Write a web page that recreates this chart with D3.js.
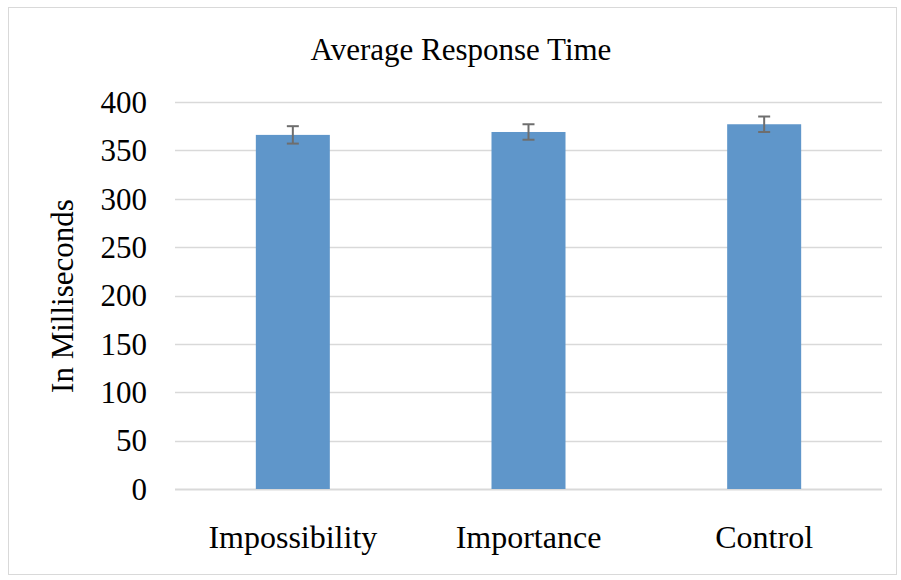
<!DOCTYPE html>
<html><head><meta charset="utf-8">
<script src="https://cdn.jsdelivr.net/npm/d3@7"></script>
<style>body{margin:0;background:#fff}svg{display:block}</style>
</head><body>
<script>
const categories = ["Impossibility", "Importance", "Control"];
const values = [366, 369, 377];
const errors = [9, 8, 8];
const yTicks = [0, 50, 100, 150, 200, 250, 300, 350, 400];
const title = "Average Response Time";
const yLabel = "In Milliseconds";

(function () {
const W = 901, H = 580;
const FONT = "'Liberation Serif', 'Times New Roman', serif";
const svg = d3.select("body").append("svg").attr("width", W).attr("height", H);
svg.append("rect").attr("x", 8.5).attr("y", 7.5).attr("width", 888).attr("height", 567)
  .attr("fill", "#fff").attr("stroke", "#d9d9d9").attr("stroke-width", 1);

const pLeft = 175, pRight = 882, pTop = 102, pBottom = 489;
const x = d3.scaleBand().domain(categories).range([pLeft, pRight]).padding(0);
const y = d3.scaleLinear().domain([0, 400]).range([pBottom, pTop]);
const bw = x.bandwidth() * 0.314;

svg.append("g").selectAll("line").data(yTicks).join("line")
  .attr("x1", pLeft).attr("x2", pRight)
  .attr("y1", d => Math.round(y(d)) + 0.5).attr("y2", d => Math.round(y(d)) + 0.5)
  .attr("stroke", "#d9d9d9").attr("stroke-width", d => d === 0 ? 2 : 1.5);

svg.append("g").selectAll("text").data(yTicks).join("text")
  .attr("x", 147).attr("y", d => y(d)).attr("dy", "0.35em")
  .attr("text-anchor", "end").attr("font-family", FONT).attr("font-size", 31).text(d => d);

svg.append("g").selectAll("rect").data(categories).join("rect")
  .attr("x", d => x(d) + x.bandwidth() / 2 - bw / 2).attr("width", bw)
  .attr("y", (d, i) => y(values[i])).attr("height", (d, i) => pBottom - y(values[i]))
  .attr("fill", "#5f96ca");

const eb = svg.append("g").attr("stroke", "#6e6e6e").attr("stroke-width", 2);
categories.forEach((c, i) => {
  const cx = x(c) + x.bandwidth() / 2;
  const y1 = y(values[i] + errors[i]), y2 = y(values[i] - errors[i]);
  eb.append("line").attr("x1", cx).attr("x2", cx).attr("y1", y1).attr("y2", y2);
  eb.append("line").attr("x1", cx - 6).attr("x2", cx + 6).attr("y1", y1).attr("y2", y1);
  eb.append("line").attr("x1", cx - 6).attr("x2", cx + 6).attr("y1", y2).attr("y2", y2);
});

svg.append("g").selectAll("text").data(categories).join("text")
  .attr("x", d => x(d) + x.bandwidth() / 2).attr("y", 548)
  .attr("text-anchor", "middle").attr("font-family", FONT).attr("font-size", 32).text(d => d);

svg.append("text").attr("x", 461).attr("y", 60).attr("text-anchor", "middle")
  .attr("font-family", FONT).attr("font-size", 31).text(title);

svg.append("text").attr("transform", "translate(73,296) rotate(-90)")
  .attr("text-anchor", "middle").attr("font-family", FONT).attr("font-size", 31).text(yLabel);
})();
</script>
</body></html>
